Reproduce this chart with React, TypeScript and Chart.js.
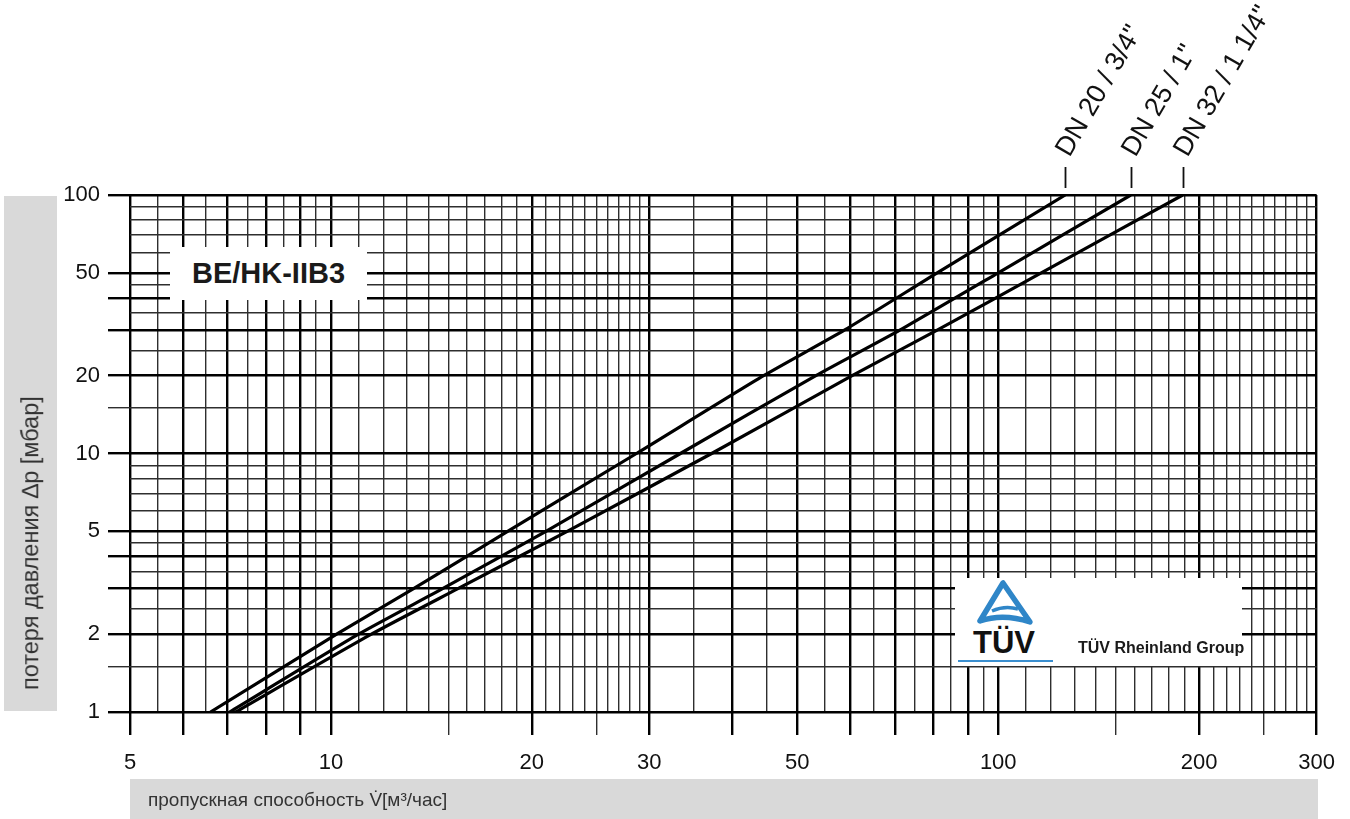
import React, { useEffect, useRef } from "react";
import { Chart, registerables } from "chart.js";

Chart.register(...registerables);

// ---- data ----
const lossValues = [1, 2, 3, 5, 10, 20, 30, 50, 100]; // Δp [мбар]
const dn20Flow = [6.6, 10.2, 13.3, 18.4, 28.7, 44.5, 58.8, 81, 126];
const dn25Flow = [7.05, 11.0, 14.7, 21.0, 33.4, 53.3, 71.2, 100, 158];
const dn32Flow = [7.2, 11.5, 15.5, 22.6, 37.2, 60.4, 81, 116, 189];
const seriesLabels = ['DN 20 / 3/4"', 'DN 25 / 1"', 'DN 32 / 1 1/4"'];

// ---- axis grid / tick values ----
const xGridValues = [5, 5.5, 6, 6.5, 7, 7.5, 8, 8.5, 9, 9.5, 10, 11, 12, 13, 14, 15, 16, 17, 18, 19, 20, 21, 22, 23, 24, 25, 26, 27, 28, 29, 30, 35, 40, 45, 50, 55, 60, 65, 70, 75, 80, 85, 90, 95, 100, 110, 120, 130, 140, 150, 160, 170, 180, 190, 200, 210, 220, 230, 240, 250, 260, 270, 280, 290, 300];
const xLabelValues = [5, 10, 20, 30, 50, 100, 200, 300];
const xThickValues = [5, 6, 7, 8, 9, 10, 20, 30, 40, 50, 60, 70, 80, 90, 100, 200, 300];
const xTickMarkValues = [5, 6, 7, 8, 9, 10, 15, 20, 25, 30, 40, 50, 60, 70, 80, 90, 100, 150, 200, 250, 300];

const yGridValues = [1, 1.5, 2, 2.5, 3, 3.5, 4, 4.5, 5, 6, 7, 8, 9, 10, 15, 20, 25, 30, 35, 40, 45, 50, 60, 70, 80, 90, 100];
const yLabelValues = [1, 2, 5, 10, 20, 50, 100];
const yThickValues = [1, 2, 3, 4, 5, 10, 20, 30, 40, 50, 100];
const yTickMarkValues = [1, 1.5, 2, 3, 4, 5, 10, 15, 20, 30, 40, 50, 100];

const FONT = "'Liberation Sans', Arial, Helvetica, sans-serif";

const has = (arr: number[], v: number) => arr.some((a) => Math.abs(a - v) < 1e-6);

const THICK_W = 2.4;
const THIN_W = 1.4;
const THICK_C = "#000000";
const THIN_C = "#2e2e2e";

function gridOpts(thick: number[], marks: number[], len: number) {
  return {
    drawOnChartArea: true,
    drawTicks: true,
    tickLength: len,
    color: (c: any) => (c.tick && has(thick, c.tick.value) ? THICK_C : THIN_C),
    lineWidth: (c: any) => (c.tick && has(thick, c.tick.value) ? THICK_W : THIN_W),
    tickColor: (c: any) =>
      c.tick && has(marks, c.tick.value) ? (has(thick, c.tick.value) ? THICK_C : THIN_C) : "rgba(0,0,0,0)",
    tickWidth: (c: any) => (c.tick && has(thick, c.tick.value) ? THICK_W : THIN_W),
  };
}

const dnLabelPlugin = {
  id: "dnLabels",
  afterDraw(chart: any) {
    const { ctx, chartArea, scales } = chart;
    const xs = scales.x;
    ctx.save();
    chart.data.datasets.forEach((ds: any) => {
      const last = ds.data[ds.data.length - 1];
      const px = Math.round(xs.getPixelForValue(last.x)) + 0.5;
      ctx.strokeStyle = "#111";
      ctx.lineWidth = 1.8;
      ctx.beginPath();
      ctx.moveTo(px, chartArea.top - 28);
      ctx.lineTo(px, chartArea.top - 7);
      ctx.stroke();
      ctx.save();
      ctx.translate(px + 4, chartArea.top - 37);
      ctx.rotate((-60 * Math.PI) / 180);
      ctx.font = `27px ${FONT}`;
      ctx.fillStyle = "#111";
      ctx.textAlign = "left";
      ctx.textBaseline = "alphabetic";
      ctx.fillText(ds.label, 0, 0);
      ctx.restore();
    });
    ctx.restore();
  },
};

export default function App() {
  const ref = useRef<HTMLCanvasElement>(null);

  useEffect(() => {
    const canvas = ref.current;
    if (!canvas) return;
    const mk = (flows: number[]) => flows.map((x, i) => ({ x, y: lossValues[i] }));
    const chart = new Chart(canvas, {
      type: "scatter",
      data: {
        datasets: [dn20Flow, dn25Flow, dn32Flow].map((f, i) => ({
          label: seriesLabels[i],
          data: mk(f),
          showLine: true,
          borderColor: "#000",
          borderWidth: 3.2,
          pointRadius: 0,
          tension: 0.2,
          fill: false,
        })),
      },
      options: {
        responsive: false,
        animation: false,
        devicePixelRatio: 1,
        layout: { padding: { left: 0, right: 30, top: 195, bottom: 0 } },
        plugins: { legend: { display: false }, tooltip: { enabled: false } },
        scales: {
          x: {
            type: "logarithmic",
            min: 5,
            max: 300,
            afterBuildTicks: (s: any) => {
              s.ticks = xGridValues.map((v) => ({ value: v }));
            },
            afterFit: (s: any) => {
              s.height = 107;
            },
            border: { display: false },
            grid: gridOpts(xThickValues, xTickMarkValues, 23) as any,
            ticks: {
              autoSkip: false,
              maxRotation: 0,
              minRotation: 0,
              padding: 15,
              color: "#111",
              font: { family: FONT, size: 22 },
              callback: (v: any) => (has(xLabelValues, Number(v)) ? String(v) : ""),
            },
          },
          y: {
            type: "logarithmic",
            min: 1,
            max: 100,
            afterBuildTicks: (s: any) => {
              s.ticks = yGridValues.map((v) => ({ value: v }));
            },
            afterFit: (s: any) => {
              s.width = 130;
            },
            border: { display: false },
            grid: gridOpts(yThickValues, yTickMarkValues, 22) as any,
            ticks: {
              autoSkip: false,
              padding: 8,
              color: "#111",
              font: { family: FONT, size: 22 },
              callback: (v: any) => (has(yLabelValues, Number(v)) ? String(v) : ""),
            },
          },
        },
      } as any,
      plugins: [dnLabelPlugin],
    });
    return () => chart.destroy();
  }, []);

  return (
    <div
      style={{
        position: "absolute",
        left: 0,
        top: 0,
        width: 1350,
        height: 819,
        overflow: "hidden",
        background: "#fff",
        fontFamily: FONT,
      }}
    >
      <div style={{ position: "absolute", left: 4, top: 196, width: 53, height: 515, background: "#d9d9d9" }} />
      <div style={{ position: "absolute", left: 130, top: 779, width: 1188, height: 40, background: "#d9d9d9" }} />
      <canvas
        ref={ref}
        width={1350}
        height={819}
        style={{ position: "absolute", left: 0, top: 0, width: 1350, height: 819 }}
      />
      <div
        style={{
          position: "absolute",
          left: 31,
          top: 690,
          transformOrigin: "0 0",
          transform: "rotate(-90deg) translateY(-50%)",
          whiteSpace: "nowrap",
          fontSize: 23.5,
          lineHeight: 1,
          color: "#333",
        }}
      >
        потеря давления ∆p [мбар]
      </div>
      <div
        style={{
          position: "absolute",
          left: 148,
          top: 790,
          whiteSpace: "nowrap",
          fontSize: 19,
          lineHeight: 1,
          color: "#333",
        }}
      >
        пропускная способность V̇[м³/час]
      </div>
      <div
        style={{
          position: "absolute",
          left: 170,
          top: 247,
          width: 197,
          height: 53,
          background: "#fff",
          display: "flex",
          alignItems: "center",
          justifyContent: "center",
          fontWeight: "bold",
          fontSize: 29,
          color: "#1a1a1a",
        }}
      >
        BE/HK-IIB3
      </div>
      <div style={{ position: "absolute", left: 955, top: 578, width: 287, height: 88, background: "#fff" }}>
        <svg width="70" height="50" style={{ position: "absolute", left: 17, top: 1 }}>
          <path d="M31 4 L8 42 Q31 34 58 43 Z" fill="none" stroke="#2f86c8" strokeWidth="5.5" strokeLinejoin="round" />
          <path d="M20 32 Q33 26 46 30" fill="none" stroke="#2f86c8" strokeWidth="3.5" />
        </svg>
        <div
          style={{
            position: "absolute",
            left: 18,
            top: 49,
            fontWeight: "bold",
            fontSize: 31,
            lineHeight: 1,
            color: "#111",
          }}
        >
          TÜV
        </div>
        <div style={{ position: "absolute", left: 3, top: 82, width: 95, height: 2, background: "#3a8fd0" }} />
        <div
          style={{
            position: "absolute",
            left: 123,
            top: 62,
            fontWeight: "bold",
            fontSize: 16,
            lineHeight: 1,
            color: "#1a1a1a",
            whiteSpace: "nowrap",
          }}
        >
          TÜV Rheinland Group
        </div>
      </div>
    </div>
  );
}
